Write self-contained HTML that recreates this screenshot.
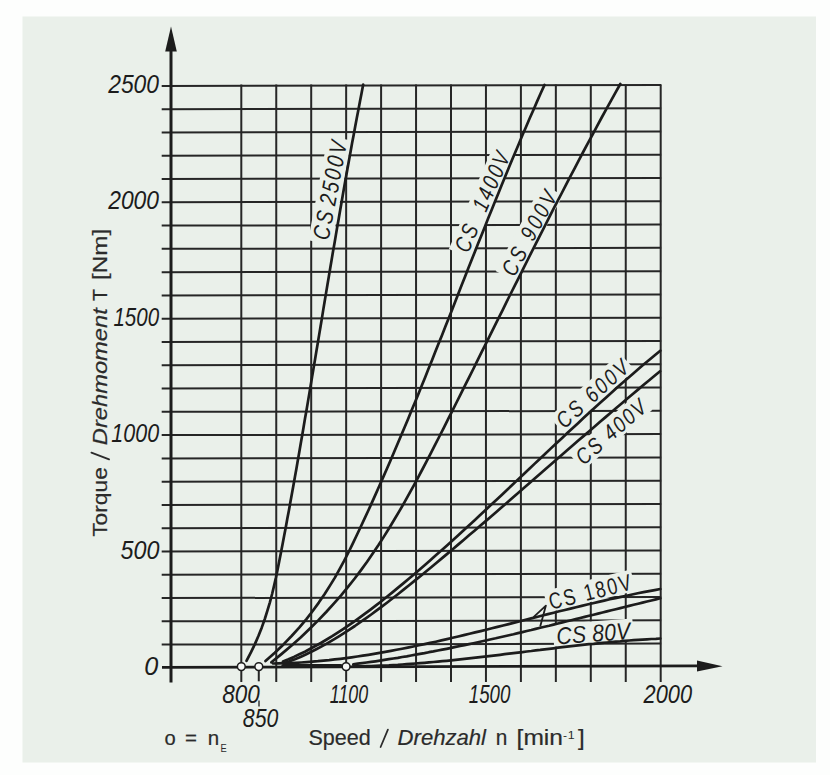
<!DOCTYPE html><html><head><meta charset="utf-8"><style>html,body{margin:0;padding:0;background:#fff;width:830px;height:775px;overflow:hidden}svg{display:block}text{font-family:"Liberation Sans",sans-serif}</style></head><body>
<svg width="830" height="775" viewBox="0 0 830 775">
<rect x="0" y="0" width="830" height="775" fill="#fdfefd"/>
<rect x="22.5" y="16.5" width="793.5" height="746" fill="#eaf0ea"/>
<g stroke="#262626" stroke-width="2.00" fill="none"><line x1="161.7" y1="644.62" x2="661.2" y2="643.62"/><line x1="161.7" y1="621.34" x2="661.2" y2="620.34"/><line x1="161.7" y1="598.06" x2="661.2" y2="597.06"/><line x1="161.7" y1="574.78" x2="661.2" y2="573.78"/><line x1="161.7" y1="551.50" x2="661.2" y2="550.50"/><line x1="161.7" y1="528.22" x2="661.2" y2="527.22"/><line x1="161.7" y1="504.94" x2="661.2" y2="503.94"/><line x1="161.7" y1="481.66" x2="661.2" y2="480.66"/><line x1="161.7" y1="458.38" x2="661.2" y2="457.38"/><line x1="161.7" y1="435.10" x2="661.2" y2="434.10"/><line x1="161.7" y1="411.82" x2="661.2" y2="410.82"/><line x1="161.7" y1="388.54" x2="661.2" y2="387.54"/><line x1="161.7" y1="365.26" x2="661.2" y2="364.26"/><line x1="161.7" y1="341.98" x2="661.2" y2="340.98"/><line x1="161.7" y1="318.70" x2="661.2" y2="317.70"/><line x1="161.7" y1="295.42" x2="661.2" y2="294.42"/><line x1="161.7" y1="272.14" x2="661.2" y2="271.14"/><line x1="161.7" y1="248.86" x2="661.2" y2="247.86"/><line x1="161.7" y1="225.58" x2="661.2" y2="224.58"/><line x1="161.7" y1="202.30" x2="661.2" y2="201.30"/><line x1="161.7" y1="179.02" x2="661.2" y2="178.02"/><line x1="161.7" y1="155.74" x2="661.2" y2="154.74"/><line x1="161.7" y1="132.46" x2="661.2" y2="131.46"/><line x1="161.7" y1="109.18" x2="661.2" y2="108.18"/><line x1="161.7" y1="85.90" x2="661.2" y2="84.90"/><line x1="241.30" y1="84.4" x2="241.30" y2="682"/><line x1="276.25" y1="84.4" x2="276.25" y2="682"/><line x1="311.20" y1="84.4" x2="311.20" y2="682"/><line x1="346.15" y1="84.4" x2="346.15" y2="682"/><line x1="381.10" y1="84.4" x2="381.10" y2="682"/><line x1="416.05" y1="84.4" x2="416.05" y2="682"/><line x1="451.00" y1="84.4" x2="451.00" y2="682"/><line x1="485.95" y1="84.4" x2="485.95" y2="682"/><line x1="520.90" y1="84.4" x2="520.90" y2="682"/><line x1="555.85" y1="84.4" x2="555.85" y2="682"/><line x1="590.80" y1="84.4" x2="590.80" y2="682"/><line x1="625.75" y1="84.4" x2="625.75" y2="682"/><line x1="660.70" y1="84.4" x2="660.70" y2="682"/><line x1="258.78" y1="666" x2="258.78" y2="681.3"/></g>
<rect x="-3.0" y="-20.1" width="106.0" height="24.1" fill="#eaf0ea" transform="translate(328.5 241.0) rotate(-79.30)"/><rect x="-3.0" y="-19.8" width="112.6" height="23.8" fill="#eaf0ea" transform="translate(468.2 254.0) rotate(-66.60)"/><rect x="-3.0" y="-19.8" width="98.5" height="23.8" fill="#eaf0ea" transform="translate(514.5 277.7) rotate(-62.00)"/><rect x="-3.0" y="-19.4" width="95.0" height="22.4" fill="#eaf0ea" transform="translate(564.6 429.4) rotate(-42.20)"/><rect x="-3.0" y="-19.4" width="91.7" height="22.4" fill="#eaf0ea" transform="translate(583.7 466.0) rotate(-41.20)"/><rect x="-3.0" y="-19.8" width="90.0" height="21.8" fill="#eaf0ea" transform="translate(551.0 609.8) rotate(-14.00)"/><rect x="-3.0" y="-20.5" width="80.0" height="22.5" fill="#eaf0ea" transform="translate(557.0 644.5) rotate(-4.20)"/>
<g stroke="#1c1c1c" fill="none">
<line x1="171" y1="48" x2="171" y2="682.6" stroke-width="3"/>
<line x1="162" y1="667.3" x2="700" y2="665.9" stroke-width="2.7"/>
</g>
<polygon points="171,26.5 165.2,51.5 176.8,51.5" fill="#1c1c1c"/>
<polygon points="722.5,666.2 697,660.6 697,671.6" fill="#1c1c1c"/>
<g stroke="#1c1c1c" stroke-width="2.70" fill="none" stroke-linecap="round" stroke-linejoin="round"><path d="M363.2,84.6 L361.6,93.0 L360.0,101.3 L358.4,109.7 L356.8,118.0 L355.2,126.4 L353.7,134.7 L352.1,143.1 L350.6,151.4 L349.1,159.8 L347.6,168.1 L346.1,176.5 L344.6,184.8 L343.1,193.2 L341.7,201.5 L340.2,209.9 L338.8,218.2 L337.3,226.6 L335.9,234.9 L334.5,243.3 L333.0,251.6 L331.6,260.0 L330.2,268.3 L328.8,276.7 L327.4,285.0 L326.0,293.4 L324.6,301.7 L323.2,310.1 L321.9,318.4 L320.5,326.8 L319.1,335.1 L317.7,343.5 L316.3,351.8 L314.9,360.2 L313.5,368.5 L312.1,376.9 L310.7,385.2 L309.3,393.6 L307.9,401.9 L306.5,410.3 L305.0,418.6 L303.6,427.0 L302.2,435.3 L300.7,443.7 L299.3,452.0 L297.8,460.4 L296.4,468.7 L294.9,477.1 L293.4,485.4 L291.9,493.8 L290.4,502.1 L288.9,510.5 L287.3,518.8 L285.8,527.2 L284.2,535.5 L282.6,543.9 L281.0,552.2 L279.4,560.6 L277.7,568.9 L276.0,577.3 L274.1,585.6 L272.1,594.0 L269.9,602.3 L267.4,610.7 L264.8,619.0 L261.8,627.4 L258.5,635.7 L254.9,644.1 L250.9,652.4 L246.5,660.8"/><path d="M544.5,84.9 L540.7,93.3 L537.0,101.6 L533.4,110.0 L529.7,118.3 L526.1,126.7 L522.5,135.0 L519.0,143.4 L515.5,151.7 L512.0,160.1 L508.5,168.4 L505.1,176.8 L501.7,185.1 L498.3,193.5 L494.9,201.8 L491.5,210.2 L488.1,218.5 L484.8,226.9 L481.5,235.2 L478.1,243.6 L474.8,251.9 L471.5,260.3 L468.2,268.6 L464.9,277.0 L461.6,285.3 L458.3,293.7 L455.1,302.0 L451.8,310.4 L448.5,318.7 L445.2,327.1 L441.9,335.4 L438.5,343.8 L435.2,352.1 L431.9,360.5 L428.5,368.8 L425.2,377.2 L421.8,385.5 L418.4,393.9 L415.0,402.2 L411.5,410.6 L408.1,418.9 L404.6,427.3 L401.1,435.6 L397.5,444.0 L394.0,452.3 L390.4,460.7 L386.8,469.0 L383.1,477.4 L379.4,485.7 L375.7,494.1 L372.0,502.4 L368.2,510.8 L364.3,519.1 L360.4,527.5 L356.5,535.8 L352.5,544.2 L348.4,552.5 L344.1,560.9 L339.6,569.2 L334.9,577.6 L329.8,585.9 L324.5,594.3 L318.8,602.6 L312.7,611.0 L306.2,619.3 L299.2,627.7 L291.6,636.0 L283.5,644.4 L274.8,652.7 L265.5,661.1"/><path d="M620.3,84.0 L615.6,92.4 L610.9,100.8 L606.3,109.1 L601.7,117.5 L597.2,125.9 L592.7,134.3 L588.2,142.7 L583.7,151.0 L579.3,159.4 L574.9,167.8 L570.5,176.2 L566.1,184.6 L561.8,193.0 L557.4,201.3 L553.1,209.7 L548.8,218.1 L544.6,226.5 L540.3,234.9 L536.1,243.2 L531.8,251.6 L527.6,260.0 L523.4,268.4 L519.2,276.8 L515.0,285.1 L510.8,293.5 L506.6,301.9 L502.5,310.3 L498.3,318.7 L494.1,327.1 L490.0,335.4 L485.8,343.8 L481.6,352.2 L477.4,360.6 L473.3,369.0 L469.1,377.3 L464.9,385.7 L460.7,394.1 L456.5,402.5 L452.3,410.9 L448.1,419.2 L443.9,427.6 L439.6,436.0 L435.3,444.4 L431.0,452.8 L426.7,461.2 L422.3,469.5 L417.9,477.9 L413.3,486.3 L408.7,494.7 L404.0,503.1 L399.2,511.4 L394.2,519.8 L389.1,528.2 L383.9,536.6 L378.5,545.0 L372.9,553.3 L367.1,561.7 L361.0,570.1 L354.7,578.5 L348.0,586.9 L341.1,595.3 L333.8,603.6 L326.2,612.0 L318.2,620.4 L309.7,628.8 L300.9,637.2 L291.6,645.5 L281.7,653.9 L271.4,662.3"/><path d="M283.0,661.5 L288.5,659.3 L293.9,656.9 L299.4,654.3 L304.9,651.7 L310.3,648.8 L315.8,645.8 L321.3,642.7 L326.7,639.5 L332.2,636.2 L337.7,632.7 L343.1,629.1 L348.6,625.4 L354.1,621.6 L359.6,617.7 L365.0,613.7 L370.5,609.6 L376.0,605.4 L381.4,601.2 L386.9,596.8 L392.4,592.4 L397.8,587.9 L403.3,583.4 L408.8,578.8 L414.2,574.2 L419.7,569.5 L425.2,564.7 L430.6,560.0 L436.1,555.1 L441.6,550.3 L447.0,545.4 L452.5,540.4 L458.0,535.5 L463.4,530.5 L468.9,525.4 L474.4,520.4 L479.9,515.3 L485.3,510.2 L490.8,505.1 L496.3,500.0 L501.7,494.9 L507.2,489.7 L512.7,484.6 L518.1,479.4 L523.6,474.2 L529.1,469.1 L534.5,463.9 L540.0,458.7 L545.5,453.6 L550.9,448.4 L556.4,443.3 L561.9,438.2 L567.3,433.0 L572.8,427.9 L578.3,422.9 L583.7,417.8 L589.2,412.8 L594.7,407.8 L600.2,402.8 L605.6,397.9 L611.1,393.0 L616.6,388.1 L622.0,383.2 L627.5,378.5 L633.0,373.7 L638.4,369.0 L643.9,364.3 L649.4,359.7 L654.8,355.2 L660.3,350.7"/><path d="M284.0,663.3 L289.5,661.3 L294.9,659.2 L300.4,656.9 L305.8,654.4 L311.3,651.8 L316.7,649.0 L322.2,646.1 L327.6,643.1 L333.1,639.9 L338.5,636.6 L344.0,633.1 L349.4,629.6 L354.9,626.0 L360.3,622.2 L365.8,618.4 L371.2,614.5 L376.7,610.4 L382.1,606.4 L387.6,602.2 L393.0,598.0 L398.5,593.7 L403.9,589.4 L409.4,585.0 L414.8,580.6 L420.3,576.2 L425.7,571.7 L431.2,567.2 L436.6,562.7 L442.1,558.1 L447.5,553.6 L453.0,549.0 L458.4,544.4 L463.9,539.8 L469.3,535.1 L474.8,530.5 L480.2,525.8 L485.7,521.1 L491.1,516.4 L496.6,511.7 L502.0,507.0 L507.5,502.3 L512.9,497.5 L518.4,492.8 L523.8,488.1 L529.3,483.3 L534.7,478.6 L540.2,473.8 L545.6,469.1 L551.1,464.3 L556.5,459.6 L562.0,454.8 L567.4,450.1 L572.9,445.3 L578.3,440.6 L583.8,435.9 L589.2,431.2 L594.7,426.5 L600.1,421.8 L605.6,417.1 L611.0,412.4 L616.5,407.8 L621.9,403.2 L627.4,398.5 L632.8,394.0 L638.3,389.4 L643.7,384.8 L649.2,380.3 L654.6,375.8 L660.1,371.3"/><path d="M273.0,663.5 L278.6,663.4 L284.2,663.2 L289.8,663.0 L295.5,662.8 L301.1,662.5 L306.7,662.1 L312.3,661.6 L317.9,661.2 L323.5,660.6 L329.1,660.1 L334.7,659.4 L340.4,658.8 L346.0,658.1 L351.6,657.3 L357.2,656.5 L362.8,655.6 L368.4,654.8 L374.0,653.9 L379.6,652.9 L385.3,651.9 L390.9,650.9 L396.5,649.8 L402.1,648.7 L407.7,647.6 L413.3,646.5 L418.9,645.3 L424.6,644.1 L430.2,642.9 L435.8,641.7 L441.4,640.4 L447.0,639.1 L452.6,637.8 L458.2,636.5 L463.8,635.1 L469.5,633.8 L475.1,632.4 L480.7,631.1 L486.3,629.7 L491.9,628.3 L497.5,626.9 L503.1,625.5 L508.7,624.1 L514.4,622.6 L520.0,621.2 L525.6,619.8 L531.2,618.4 L536.8,617.0 L542.4,615.5 L548.0,614.1 L553.7,612.7 L559.3,611.3 L564.9,610.0 L570.5,608.6 L576.1,607.2 L581.7,605.9 L587.3,604.5 L592.9,603.2 L598.6,601.9 L604.2,600.6 L609.8,599.3 L615.4,598.1 L621.0,596.9 L626.6,595.7 L632.2,594.5 L637.8,593.3 L643.5,592.2 L649.1,591.1 L654.7,590.1 L660.3,589.0"/><path d="M353.3,664.3 L357.7,663.7 L362.2,663.1 L366.6,662.5 L371.1,661.9 L375.5,661.3 L380.0,660.6 L384.4,659.9 L388.9,659.2 L393.3,658.5 L397.8,657.8 L402.2,657.0 L406.7,656.3 L411.1,655.5 L415.6,654.7 L420.0,653.9 L424.5,653.1 L428.9,652.2 L433.4,651.4 L437.8,650.5 L442.3,649.6 L446.7,648.8 L451.2,647.9 L455.6,646.9 L460.1,646.0 L464.5,645.1 L469.0,644.1 L473.4,643.2 L477.9,642.2 L482.3,641.2 L486.8,640.3 L491.2,639.3 L495.7,638.3 L500.1,637.2 L504.6,636.2 L509.0,635.2 L513.5,634.2 L517.9,633.1 L522.4,632.1 L526.8,631.0 L531.3,630.0 L535.7,628.9 L540.2,627.8 L544.6,626.7 L549.1,625.7 L553.5,624.6 L558.0,623.5 L562.4,622.4 L566.9,621.3 L571.3,620.2 L575.8,619.1 L580.2,618.0 L584.7,616.9 L589.1,615.8 L593.6,614.7 L598.0,613.6 L602.5,612.5 L606.9,611.4 L611.4,610.3 L615.8,609.2 L620.3,608.1 L624.7,607.0 L629.2,605.9 L633.6,604.8 L638.1,603.7 L642.5,602.6 L647.0,601.5 L651.4,600.5 L655.9,599.4 L660.3,598.3"/><path d="M353.3,666.4 L357.7,666.3 L362.2,666.3 L366.6,666.2 L371.1,666.0 L375.5,665.9 L380.0,665.7 L384.4,665.5 L388.9,665.3 L393.3,665.0 L397.8,664.8 L402.2,664.5 L406.7,664.2 L411.1,663.9 L415.6,663.5 L420.0,663.2 L424.5,662.8 L428.9,662.4 L433.4,662.0 L437.8,661.6 L442.3,661.2 L446.7,660.8 L451.2,660.3 L455.6,659.9 L460.1,659.4 L464.5,658.9 L469.0,658.4 L473.4,657.9 L477.9,657.4 L482.3,656.9 L486.8,656.4 L491.2,655.8 L495.7,655.3 L500.1,654.8 L504.6,654.2 L509.0,653.7 L513.5,653.1 L517.9,652.6 L522.4,652.1 L526.8,651.5 L531.3,651.0 L535.7,650.4 L540.2,649.9 L544.6,649.3 L549.1,648.8 L553.5,648.3 L558.0,647.7 L562.4,647.2 L566.9,646.7 L571.3,646.2 L575.8,645.7 L580.2,645.2 L584.7,644.7 L589.1,644.2 L593.6,643.8 L598.0,643.3 L602.5,642.9 L606.9,642.5 L611.4,642.0 L615.8,641.6 L620.3,641.3 L624.7,640.9 L629.2,640.5 L633.6,640.2 L638.1,639.9 L642.5,639.6 L647.0,639.3 L651.4,639.0 L655.9,638.8 L660.3,638.5"/><line x1="283" y1="665.6" x2="341" y2="665.8" stroke-width="3.4"/></g>
<polyline points="533.5,617.2 545.9,605.6 540.2,626.5" fill="none" stroke="#1c1c1c" stroke-width="1.8" stroke-linejoin="round"/>
<circle cx="241.3" cy="666.6" r="3.9" fill="#f6f8f6" stroke="#1c1c1c" stroke-width="1.5"/>
<circle cx="258.8" cy="666.6" r="3.9" fill="#f6f8f6" stroke="#1c1c1c" stroke-width="1.5"/>
<circle cx="346.1" cy="666.6" r="3.9" fill="#f6f8f6" stroke="#1c1c1c" stroke-width="1.5"/>
<text transform="translate(108.20 93.00) scale(1.0118 1.1500)" font-size="22.60" font-style="italic" fill="#1c1c1c">2500</text>
<text transform="translate(108.20 209.40) scale(1.0118 1.1500)" font-size="22.60" font-style="italic" fill="#1c1c1c">2000</text>
<text transform="translate(113.40 325.80) scale(0.9098 1.1500)" font-size="22.60" font-style="italic" fill="#1c1c1c">1500</text>
<text transform="translate(111.30 442.20) scale(0.9510 1.1500)" font-size="22.60" font-style="italic" fill="#1c1c1c">1000</text>
<text transform="translate(120.60 558.60) scale(1.0316 1.1500)" font-size="22.60" font-style="italic" fill="#1c1c1c">500</text>
<text transform="translate(144.30 675.00) scale(1.1154 1.1500)" font-size="22.60" font-style="italic" fill="#1c1c1c">0</text>
<text transform="translate(222.30 702.50) scale(1.0243 1.1500)" font-size="22.00" font-style="italic" fill="#1c1c1c">800</text>
<text transform="translate(242.80 727.10) scale(0.9676 1.1500)" font-size="22.00" font-style="italic" fill="#1c1c1c">850</text>
<text transform="translate(329.80 702.50) scale(0.8104 1.1500)" font-size="22.00" font-style="italic" fill="#1c1c1c">1100</text>
<text transform="translate(468.80 702.60) scale(0.8510 1.1500)" font-size="22.00" font-style="italic" fill="#1c1c1c">1500</text>
<text transform="translate(643.60 702.60) scale(0.9918 1.1500)" font-size="22.00" font-style="italic" fill="#1c1c1c">2000</text>
<line x1="259.0" y1="700.5" x2="259.0" y2="706.5" stroke="#1c1c1c" stroke-width="1.3"/>
<text transform="translate(328.5 241.0) rotate(-79.30) scale(0.820 1)" font-size="23.5" font-style="italic" textLength="122.0" lengthAdjust="spacing" fill="#1c1c1c">CS 2500V</text>
<text transform="translate(468.2 254.0) rotate(-66.60) scale(0.800 1)" font-size="23.0" font-style="italic" textLength="133.2" lengthAdjust="spacing" fill="#1c1c1c">CS  1400V</text>
<text transform="translate(514.5 277.7) rotate(-62.00) scale(0.800 1)" font-size="23.0" font-style="italic" textLength="115.6" lengthAdjust="spacing" fill="#1c1c1c">CS 900V</text>
<text transform="translate(564.6 429.4) rotate(-42.20) scale(0.820 1)" font-size="22.5" font-style="italic" textLength="108.5" lengthAdjust="spacing" fill="#1c1c1c">CS 600V</text>
<text transform="translate(583.7 466.0) rotate(-41.20) scale(0.820 1)" font-size="22.5" font-style="italic" textLength="104.5" lengthAdjust="spacing" fill="#1c1c1c">CS 400V</text>
<text transform="translate(551.0 609.8) rotate(-14.00) scale(0.780 1)" font-size="23.0" font-style="normal" textLength="107.7" lengthAdjust="spacing" fill="#1c1c1c">CS 180V</text>
<text transform="translate(557.0 644.5) rotate(-4.20) scale(0.880 1)" font-size="24.0" font-style="italic" textLength="84.1" lengthAdjust="spacing" fill="#1c1c1c">CS 80V</text>
<text transform="translate(308.40 745.00) scale(1.0016 1.0000)" font-size="21.50" font-style="normal" fill="#2b2b2b" stroke="#2b2b2b" stroke-width="0.20">Speed</text>
<text transform="translate(397.60 745.00) scale(1.0276 1.0000)" font-size="21.50" font-style="italic" fill="#2b2b2b" stroke="#2b2b2b" stroke-width="0.20">Drehzahl</text>
<text transform="translate(495.83 745.00) scale(0.9700 1.0000)" font-size="21.50" font-style="normal" fill="#2b2b2b" stroke="#2b2b2b" stroke-width="0.20">n</text>
<text transform="translate(516.56 745.00) scale(1.1436 1.0000)" font-size="21.50" font-style="normal" fill="#2b2b2b" stroke="#2b2b2b" stroke-width="0.20">[min</text>
<text transform="translate(578.00 745.00) scale(1.1200 1.0000)" font-size="21.50" font-style="normal" fill="#2b2b2b" stroke="#2b2b2b" stroke-width="0.20">]</text>
<line x1="387.9" y1="729.6" x2="380.6" y2="747.0" stroke="#2b2b2b" stroke-width="1.75" stroke-linecap="round"/>
<line x1="91.4" y1="452.6" x2="109.1" y2="459.4" stroke="#2b2b2b" stroke-width="1.75" stroke-linecap="round"/>
<text transform="translate(562.90 739.30) scale(1.0500 1.0000)" font-size="11.50" font-style="normal" fill="#2b2b2b">-</text>
<text transform="translate(567.82 739.20) scale(1.0800 1.0000)" font-size="11.50" font-style="normal" fill="#2b2b2b">1</text>
<text transform="translate(106.60 536.80) rotate(-90) scale(1.1517 1.0000)" font-size="19.80" font-style="normal" fill="#2b2b2b" stroke="#2b2b2b" stroke-width="0.20">Torque</text>
<text transform="translate(106.60 445.20) rotate(-90) scale(1.1974 1.0000)" font-size="19.80" font-style="italic" fill="#2b2b2b" stroke="#2b2b2b" stroke-width="0.20">Drehmoment</text>
<text transform="translate(106.60 301.00) rotate(-90) scale(1.0000 1.0000)" font-size="19.80" font-style="normal" fill="#2b2b2b" stroke="#2b2b2b" stroke-width="0.20">T</text>
<text transform="translate(106.60 279.93) rotate(-90) scale(1.2250 1.0000)" font-size="19.80" font-style="normal" fill="#2b2b2b" stroke="#2b2b2b" stroke-width="0.20">[Nm]</text>
<text transform="translate(164.50 745.00) scale(0.9818 1.0000)" font-size="20.50" font-style="normal" fill="#2b2b2b" stroke="#2b2b2b" stroke-width="0.20">o</text>
<text transform="translate(185.00 745.00) scale(1.0000 1.0000)" font-size="20.50" font-style="normal" fill="#2b2b2b" stroke="#2b2b2b" stroke-width="0.20">=</text>
<text transform="translate(207.70 745.00) scale(1.0000 1.0000)" font-size="20.50" font-style="normal" fill="#2b2b2b" stroke="#2b2b2b" stroke-width="0.20">n</text>
<text transform="translate(220.50 751.70) scale(0.8125 1.0000)" font-size="11.50" font-style="normal" fill="#2b2b2b">E</text>
</svg></body></html>
